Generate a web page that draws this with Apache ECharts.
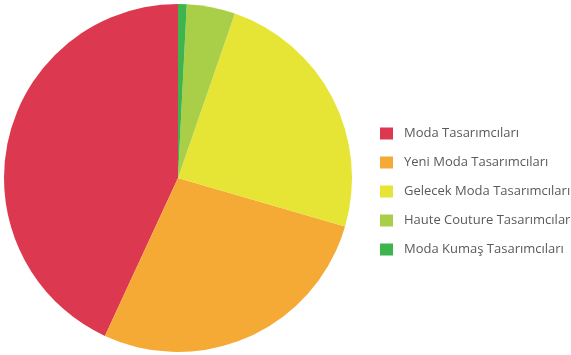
<!DOCTYPE html>
<html>
<head>
<meta charset="utf-8">
<script src="https://cdn.jsdelivr.net/npm/echarts@6/dist/echarts.min.js"></script>
<style>
  html, body { margin: 0; padding: 0; background: #fff; }
  #chart { width: 571px; height: 355px; }
</style>
</head>
<body>
<div id="chart"></div>
<script>
// categories and shares (percent)
const categories = [
  "Moda Tasarımcıları",
  "Yeni Moda Tasarımcıları",
  "Gelecek Moda Tasarımcıları",
  "Haute Couture Tasarımcıları",
  "Moda Kumaş Tasarımcıları"
];
const shares = [43.1, 27.4, 24.2, 4.5, 0.8];
const colors = ["#dc3850", "#f5aa35", "#e6e536", "#a9cf48", "#3db54c"];

const myChart = echarts.init(document.getElementById("chart"));
const options = {
  animation: false,
  color: colors,
  legend: {
    orient: "vertical",
    left: 380,
    top: 127,
    padding: 0,
    itemWidth: 13,
    itemHeight: 12,
    itemGap: 16,
    icon: "rect",
    textStyle: {
      fontFamily: "Open Sans",
      fontSize: 13,
      color: "#5a5a5a",
      padding: [0, 0, 0, 6]
    },
    data: categories
  },
  series: [
    {
      type: "pie",
      center: [178, 178],
      radius: 174,
      startAngle: 90,
      clockwise: false,
      label: { show: false },
      labelLine: { show: false },
      itemStyle: { borderWidth: 0 },
      data: categories.map((name, i) => ({ name: name, value: shares[i] }))
    }
  ]
};
myChart.setOption(options);
</script>
</body>
</html>
